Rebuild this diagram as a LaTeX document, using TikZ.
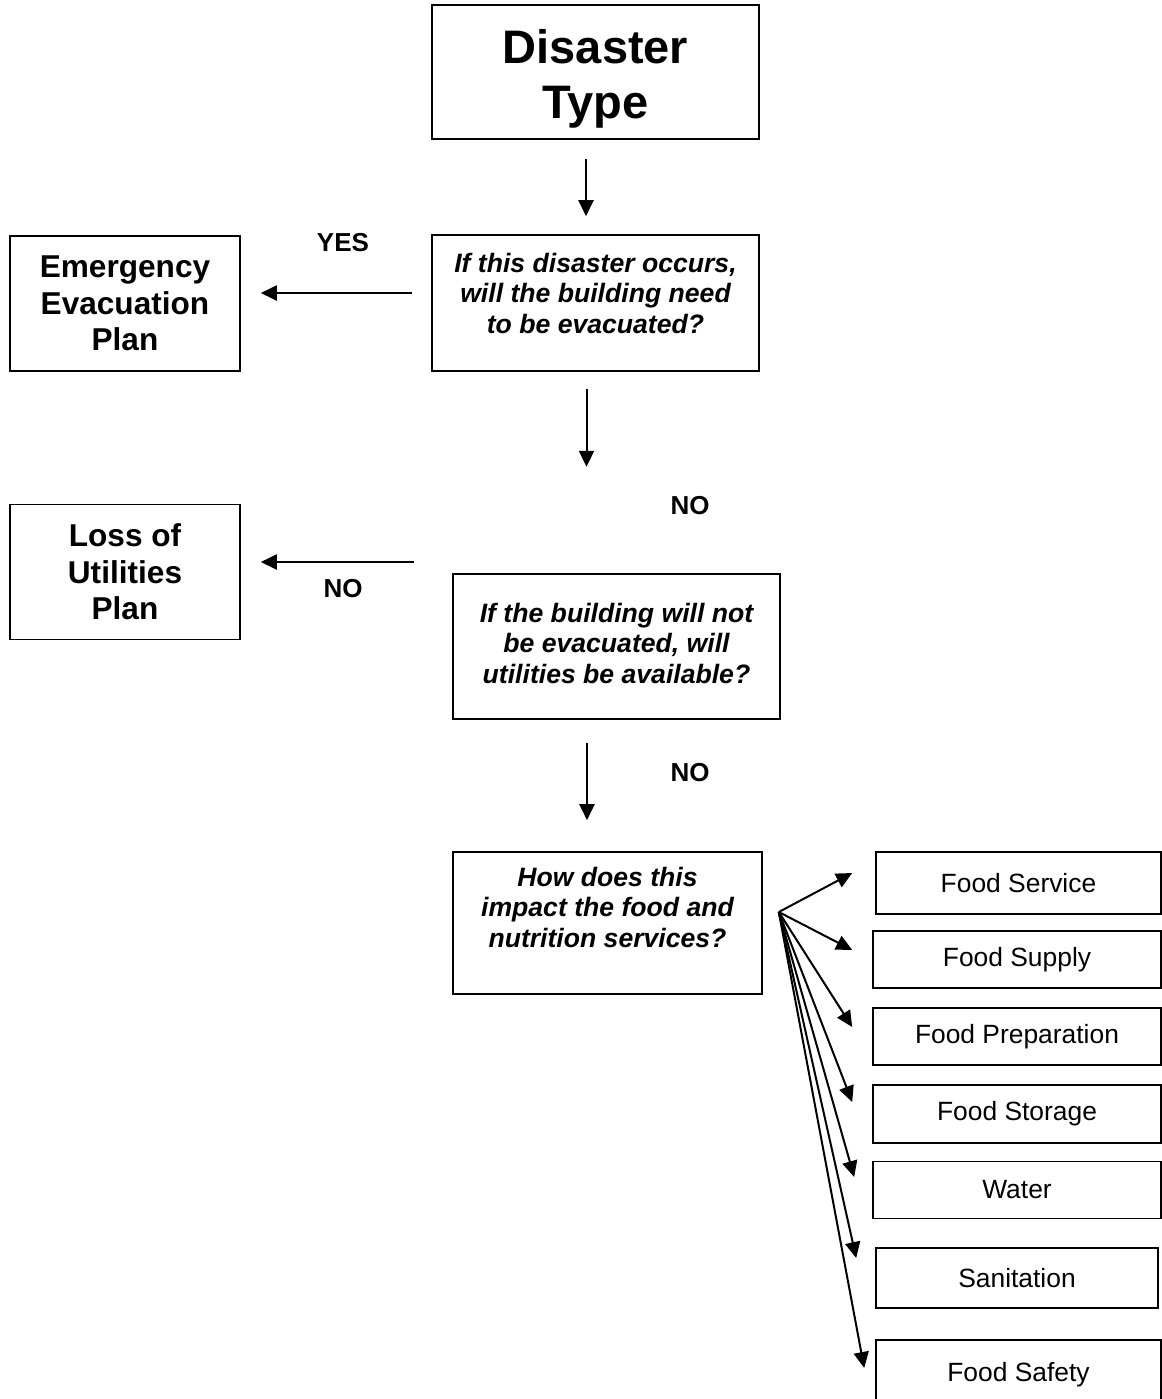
\documentclass[tikz,border=0pt]{standalone}
\usepackage{fontspec}
\setmainfont{Liberation Sans}
\usetikzlibrary{arrows.meta,calc}

\begin{document}
\begin{tikzpicture}[x=0.5pt,y=-0.5pt,
    box/.style={draw,line width=0.8pt,inner sep=0pt,align=center},
    bigbox/.style={box,font=\fontsize{23.5}{27.5}\selectfont\bfseries},
    planbox/.style={box,minimum width=115pt,minimum height=67.5pt,
                    font=\fontsize{15.8}{18.3}\selectfont\bfseries},
    askbox/.style={box,font=\fontsize{13.3}{15.2}\selectfont\bfseries\itshape},
    areabox/.style={box,minimum width=144pt,minimum height=28.5pt,
                    font=\fontsize{13.2}{15}\selectfont},
    flow/.style={-{Triangle[length=8pt,width=7.5pt]},line width=1pt},
    answer/.style={font=\fontsize{13}{15}\selectfont\bfseries}]
  \useasboundingbox (0,0) rectangle (1162,1399);

  % main column
  \node[bigbox,minimum width=163.5pt,minimum height=67pt,
        text height=46.5pt,text depth=0pt]
    (dtype) at (595.5,72) {Disaster\\Type};
  \node[askbox,minimum width=163.5pt,minimum height=68pt,text depth=10pt]
    (evac) at (595.5,303) {If this disaster occurs,\\will the building need\\to be evacuated?};
  \node[askbox,minimum width=163.5pt,minimum height=72.5pt,text depth=3.5pt]
    (util) at (616.5,646.5) {If the building will not\\be evacuated, will\\utilities be available?};
  \node[askbox,minimum width=154.5pt,minimum height=71pt,text depth=16pt]
    (impact) at (607.5,923) {How does this\\impact the food and\\nutrition services?};

  % plans on the left
  \node[planbox] (emerg) at (125,303.5) {Emergency\\Evacuation\\Plan};
  \node[planbox] (loss) at (125,572) {Loss of\\Utilities\\Plan};

  % service areas
  \node[areabox,minimum width=142.5pt,minimum height=31pt]
    (svc) at (1018.5,883) {Food Service};
  \node[areabox] (supply) at (1017,959.5) {Food Supply};
  \node[areabox] (prep) at (1017,1036.5) {Food Preparation};
  \node[areabox,minimum height=29pt] (store) at (1017,1114) {Food Storage};
  \node[areabox] (water) at (1017,1190) {Water};
  \node[areabox,minimum width=141pt,minimum height=30pt]
    (sanit) at (1017,1278) {Sanitation};
  \node[areabox,minimum width=142.5pt,minimum height=35pt]
    (safety) at (1018.5,1375) {Food Safety};

  % answers
  \node[answer] (yes) at (343,243) {YES};
  \node[answer] (noloss) at (343,589) {NO};
  \node[answer] (noevac) at (690,506) {NO};
  \node[answer] (noutil) at (690,773) {NO};

  % arrows
  \draw[flow] ($(dtype.south)+(-9.5,19)$) -- ($(evac.north)+(-9.5,-18)$);
  \draw[flow] ($(evac.south)+(-9,17)$) -- ($(evac.south)+(-9,95)$);
  \draw[flow] ($(util.south)+(-29.5,23)$) -- ($(impact.north)+(-20.5,-31)$);
  \draw[flow] ($(evac.west)+(-19,-10)$) -- ($(emerg.east)+(20,-10.5)$);
  \draw[flow] ($(loss.east)+(173,-10)$) -- ($(loss.east)+(20,-10)$);

  \coordinate (fan) at ($(impact.east)+(16,-11)$);
  \draw[flow] (fan) -- ($(svc.west)+(-23,-10)$);
  \draw[flow] (fan) -- ($(supply.west)+(-20,-9.5)$);
  \draw[flow] (fan) -- ($(prep.west)+(-20,-9.5)$);
  \draw[flow] (fan) -- ($(store.west)+(-20,-12)$);
  \draw[flow] (fan) -- ($(water.west)+(-18,-13)$);
  \draw[flow] (fan) -- ($(sanit.west)+(-19,-20)$);
  \draw[flow] (fan) -- ($(safety.west)+(-11,-7)$);
\end{tikzpicture}
\end{document}
